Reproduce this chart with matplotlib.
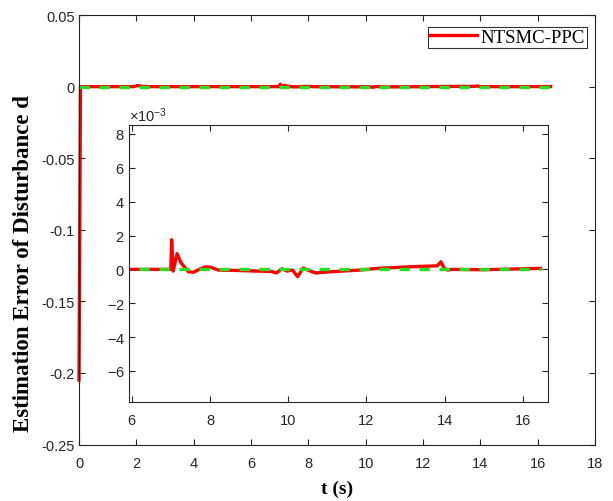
import numpy as np
import matplotlib
matplotlib.use("Agg")
import matplotlib.pyplot as plt
from matplotlib.ticker import FuncFormatter, ScalarFormatter

plt.rcParams["font.family"] = ["Liberation Sans", "DejaVu Sans"]
plt.rcParams["axes.unicode_minus"] = False
plt.rcParams["mathtext.fontset"] = "custom"
plt.rcParams["mathtext.rm"] = "Liberation Sans"
plt.rcParams["mathtext.it"] = "Liberation Sans"

# estimation error of NTSMC-PPC (time in s, error in absolute units)
t_err = [0.0, 0.05, 0.1, 1.9, 2.05, 2.2, 2.4, 5.93, 7.0, 7.02, 7.06, 7.16, 7.26, 7.45,
         7.58, 7.76, 7.9, 8.03, 8.21, 8.66, 9.2, 9.57, 9.7, 9.84, 9.97, 10.11,
         10.24, 10.38, 10.52, 10.7, 11.01, 11.37, 11.83, 12.28, 13.18, 13.81,
         13.9, 13.99, 14.08, 14.17, 15.0, 16.45]
e_err = [-0.205, 0.0, 0.0, 0.0, 0.0008, 0.0002, 0.0, 0.0, 0.0, 0.00175, -0.0001,
         0.00093, 0.00039, -0.00014, -0.00017, 0.00004, 0.00016, 0.00012,
         -0.00004, -0.00006, -0.0001, -0.00012, -0.00021, 0.00004, -0.0001,
         -0.00004, -0.00043, 0.00008, -0.00006, -0.00021, -0.00015, -0.0001,
         -0.00004, 0.00006, 0.00016, 0.00021, 0.00045, 0.00006, -0.00004, 0.0,
         -0.00002, 0.00006]
# zero reference
t_ref = [0.0, 16.45]
e_ref = [0.0, 0.0]

main_yticks = [0.05, 0, -0.05, -0.1, -0.15, -0.2, -0.25]
inset_yticks = [-6e-3, -4e-3, -2e-3, 0, 2e-3, 4e-3, 6e-3, 8e-3]

RED = "#ff0000"
GREEN = "#22e022"
DASH = (0, (3.1, 2.9))

fig = plt.figure(figsize=(6.13, 5.02), dpi=100)
ax = fig.add_axes([0.1289, 0.1125, 0.8417, 0.8555])
ax.plot(t_err, e_err, color=RED, lw=2.4, label="NTSMC-PPC", clip_on=False)
ax.plot(t_ref, e_ref, color=GREEN, lw=2.4, ls=DASH)
ax.set_xlim(0, 18)
ax.set_ylim(-0.25, 0.05)
ax.set_xticks(np.arange(0, 19, 2))
ax.set_yticks(main_yticks)
ax.yaxis.set_major_formatter(FuncFormatter(lambda v, p: "%g" % round(v, 4)))
ax.set_xlabel("t (s)", family="Liberation Serif", weight="bold", fontsize=14,
              labelpad=7)
# y label sits a bit below the axes centre in the original figure
fig.text(23.5 / 613, 1 - 264 / 502, "Estimation Error of Disturbance d",
         family="Liberation Serif", weight="bold", fontsize=16.5,
         rotation=90, ha="center", va="center")
leg = ax.legend(loc="upper right", bbox_to_anchor=(0.9576, 0.9442),
                bbox_transform=fig.transFigure, borderaxespad=0,
                fancybox=False, framealpha=1, edgecolor="#333333",
                prop={"family": "Liberation Serif", "size": 13.5},
                handlelength=2.5, handletextpad=0.2, borderpad=0.1)
leg.get_frame().set_linewidth(0.8)

ins = fig.add_axes([0.2104, 0.197, 0.6836, 0.552])
ins.plot(t_err, e_err, color=RED, lw=2.4)
ins.plot(t_ref, e_ref, color=GREEN, lw=2.4, ls=DASH)
ins.set_xlim(5.93, 16.64)
ins.set_ylim(-7.84e-3, 8.53e-3)
ins.set_xticks(np.arange(6, 17, 2))
ins.set_yticks(inset_yticks)
fmt = ScalarFormatter(useMathText=True)
fmt.set_powerlimits((-2, 2))
ins.yaxis.set_major_formatter(fmt)
ins.yaxis.get_offset_text().set_fontsize(10.5)

for a in (ax, ins):
    a.tick_params(direction="in", top=True, right=True, length=4.5, width=0.8,
                  labelsize=10.5, colors="#262626")
    a.tick_params(axis="x", pad=8)
    a.tick_params(axis="y", pad=3)
    for s in a.spines.values():
        s.set_color("#262626")
        s.set_linewidth(0.8)
    a.set_facecolor("white")

fig.savefig("out.png", dpi=100)
